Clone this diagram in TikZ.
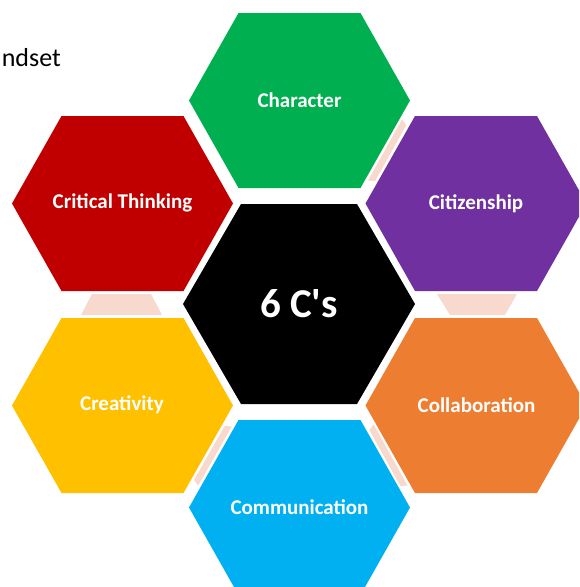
\documentclass[tikz,border=0pt]{standalone}
\usepackage{fontspec}
\setmainfont{Carlito}[Ligatures=TeXOff]
\definecolor{cgreen}{HTML}{00B050}
\definecolor{cred}{HTML}{C00000}
\definecolor{cpurple}{HTML}{7030A0}
\definecolor{cyellow}{HTML}{FFC000}
\definecolor{corange}{HTML}{ED7D31}
\definecolor{cblue}{HTML}{00B0F0}
\definecolor{cpink}{HTML}{F8D9CE}
\newcommand\outerhex[3]{\fill[#3, shift={(#1,#2)}] (-110.5,0) -- (-61,-87.5) -- (61,-87.5) -- (110.5,0) -- (61,87.5) -- (-61,87.5) -- cycle;}
\begin{document}
\begin{tikzpicture}[x=1pt,y=-1pt,
  lbl/.style={text=white, font=\bfseries\fontsize{21}{25}\selectfont, inner sep=0pt},
  conn/.style={fill=cpink}]
\useasboundingbox (0,0) rectangle (579,587);
\clip (0,0) rectangle (579,587);
% header text
\node[anchor=base east, inner sep=0pt, font=\fontsize{26}{30}\selectfont] (title) at (61,66) {ndset};
% outer hexagons
\outerhex{299.5}{100.5}{cgreen}
\outerhex{122.5}{203.5}{cred}
\outerhex{476}{203.5}{cpurple}
\outerhex{122.5}{405.5}{cyellow}
\outerhex{476}{405.5}{corange}
\outerhex{299.5}{507.5}{cblue}
% center hexagon
\fill[black, shift={(299,304)}] (-116,0) -- (-58,-100) -- (58,-100) -- (116,0) -- (58,100) -- (-58,100) -- cycle;
% connectors
\fill[conn] (402.05,119.3) -- (406.3,125.1) -- (375.1,181.1) -- (367.95,180.5) -- cycle;
\fill[conn] (437,294) -- (517,294) -- (505,315) -- (450,315) -- cycle;
\fill[conn] (373.7,424.3) -- (407.5,485.5) -- (400.4,486.1) -- (369.4,430.1) -- cycle;
\fill[conn] (231.8,426.5) -- (198.2,485.7) -- (194.1,479.9) -- (224.7,425.9) -- cycle;
\fill[conn] (92,294) -- (151,294) -- (162,315) -- (81,315) -- cycle;
% labels
\node[lbl] (character) at (299.5,100) {Character};
\node[lbl] (critical) at (122.5,203) {Critical Thinking};
\node[lbl] (citizenship) at (476,204) {Citizenship};
\node[lbl] (creativity) at (122,405) {Creativity};
\node[lbl] (collaboration) at (476.5,405) {Collaboration};
\node[lbl] (communication) at (299.5,507) {Communication};
\node[text=white, font=\bfseries\fontsize{41}{48}\selectfont, inner sep=0pt] (center) at (299,304) {6 C's};
\end{tikzpicture}
\end{document}
